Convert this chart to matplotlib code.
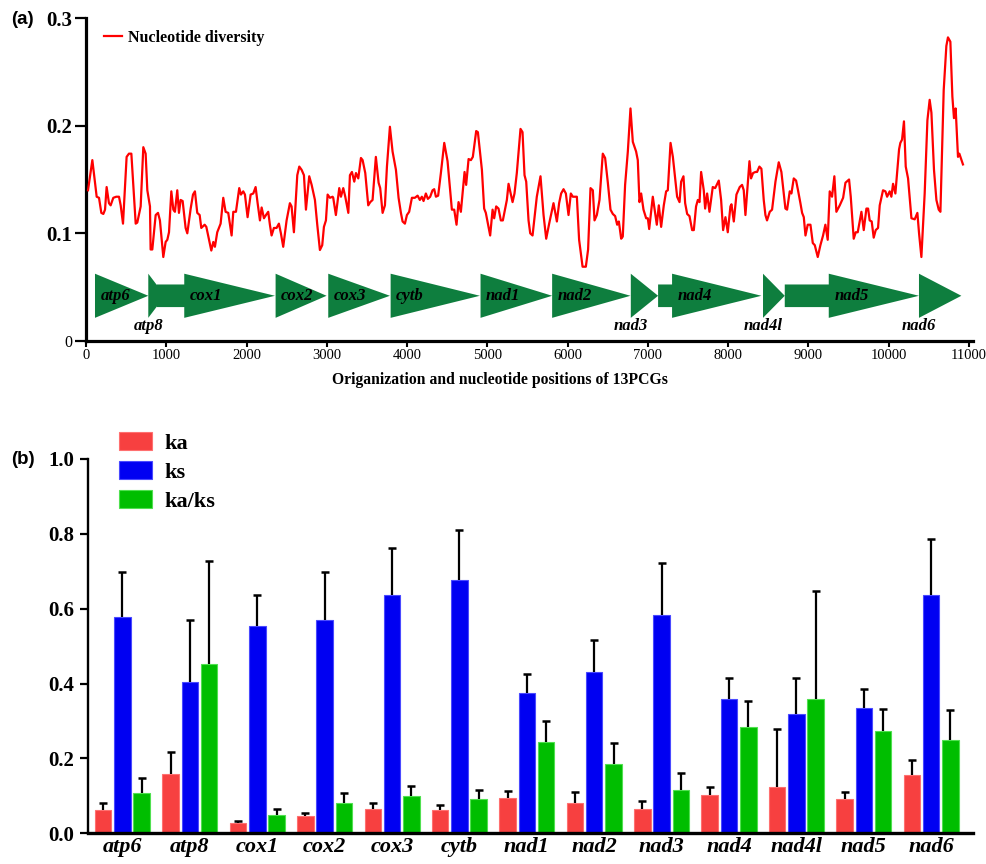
import numpy as np
import matplotlib
matplotlib.use("Agg")
import matplotlib.pyplot as plt
from matplotlib.patches import Polygon

# ---------------- data: nucleotide diversity (sliding window) ----------------
nd_pos = [25, 79, 133, 162, 191, 216, 237, 257, 286, 307, 340, 377, 411, 432, 461, 506, 535, 565, 619, 639,
          681, 714, 743, 764, 797, 805, 826, 868, 897, 921, 963, 992, 1013, 1034, 1063, 1088, 1108, 1137, 1158,
          1179, 1204, 1241, 1262, 1304, 1333, 1357, 1386, 1416, 1436, 1478, 1499, 1561, 1586,
          1606, 1635, 1677, 1710, 1739, 1772, 1814, 1835, 1868, 1909, 1930, 1959, 1980, 2013, 2051, 2084, 2113,
          2138, 2167, 2188, 2217, 2242, 2270, 2291, 2312, 2341, 2374, 2403, 2428, 2457, 2499, 2540, 2561, 2590,
          2632, 2657, 2686, 2715, 2740, 2781, 2811, 2852, 2881, 2914, 2943, 2964, 2989, 3010, 3039, 3072, 3080, 3113,
          3155, 3176, 3205, 3230, 3268, 3288, 3313, 3342, 3363, 3392, 3425, 3446, 3479, 3516, 3541, 3570, 3611,
          3645, 3665, 3695, 3724, 3749, 3786, 3819, 3861, 3894, 3923, 3944, 3973, 3998, 4026, 4060, 4097, 4131,
          4159, 4184, 4205, 4234, 4259, 4288, 4317, 4338, 4359, 4387, 4421, 4463, 4504, 4558, 4587, 4616, 4641, 4670,
          4716, 4736, 4766, 4795, 4819, 4861, 4882, 4932, 4960, 4981, 5035, 5065, 5085, 5110, 5139, 5168, 5193,
          5222, 5243, 5264, 5314, 5338, 5367, 5413, 5438, 5463, 5484, 5513, 5534, 5563, 5616, 5662, 5700, 5733,
          5770, 5824, 5866, 5894, 5919, 5949, 5978, 6011, 6040, 6065, 6115, 6143, 6186, 6227,
          6255, 6285, 6314, 6335, 6364, 6397, 6438, 6467, 6501, 6534, 6563, 6592, 6617, 6638, 6667, 6687, 6716,
          6750, 6783, 6812, 6853, 6874, 6895, 6916, 6945, 6978, 6999, 7016, 7061, 7082, 7111, 7136, 7165, 7198,
          7227, 7248, 7282, 7311, 7339, 7364, 7394, 7414, 7443, 7464, 7489, 7518, 7551, 7572, 7600, 7622, 7643,
          7663, 7696, 7713, 7738, 7767, 7808, 7838,
          7883, 7912, 7937, 7966, 7995, 8028, 8041, 8070, 8103, 8144, 8173, 8194, 8215, 8265, 8285, 8310, 8340,
          8360, 8389, 8414, 8443, 8464, 8484, 8518, 8547, 8589, 8630, 8663, 8684, 8713, 8734, 8767, 8788, 8817,
          8846, 8870, 8900, 8921, 8942, 8963, 8991, 9025, 9054, 9079, 9116, 9149, 9182, 9211, 9240, 9265, 9294,
          9323, 9348, 9390,
          9432, 9461, 9506, 9527, 9564, 9589, 9614, 9660, 9689, 9722, 9743, 9763, 9788, 9813, 9838, 9867, 9888,
          9929, 9959, 9980, 10012, 10033, 10054, 10083, 10129, 10145, 10166, 10190, 10212, 10241, 10283, 10324,
          10357, 10378, 10407, 10448, 10482, 10510, 10532, 10564, 10594, 10623, 10644, 10685, 10718, 10738, 10768,
          10793, 10813, 10834, 10863, 10880, 10925]
nd_val = [0.140, 0.168, 0.134, 0.133, 0.119, 0.118, 0.122, 0.143, 0.128, 0.126, 0.133, 0.134, 0.134, 0.126, 0.109,
          0.171, 0.174, 0.174, 0.109, 0.110, 0.125, 0.180, 0.174, 0.140, 0.125, 0.085, 0.085, 0.117, 0.119, 0.112,
          0.078, 0.092, 0.094, 0.101, 0.139, 0.122, 0.120, 0.140, 0.119, 0.131, 0.130, 0.105, 0.100, 0.123, 0.136,
          0.139, 0.119, 0.117, 0.105, 0.108, 0.106, 0.084, 0.092,
          0.0875, 0.101, 0.109, 0.133, 0.120, 0.119, 0.098, 0.120, 0.120, 0.142, 0.136, 0.139, 0.136, 0.115, 0.136,
          0.137, 0.143, 0.128, 0.112, 0.124, 0.114, 0.117, 0.120, 0.108, 0.098, 0.105, 0.105, 0.109, 0.100, 0.0875,
          0.112, 0.128, 0.125, 0.101, 0.154, 0.162, 0.159, 0.154, 0.122, 0.153, 0.145, 0.131, 0.108, 0.0845, 0.089,
          0.106, 0.112, 0.136, 0.133, 0.134, 0.133, 0.117,
          0.142, 0.134, 0.142, 0.134, 0.119, 0.154, 0.157, 0.148, 0.156, 0.151, 0.170, 0.168, 0.156, 0.126, 0.129,
          0.131, 0.171, 0.147, 0.142, 0.119, 0.126, 0.162, 0.199, 0.176, 0.159, 0.133, 0.119, 0.111, 0.109, 0.117,
          0.120, 0.133, 0.133, 0.135, 0.131, 0.134, 0.130, 0.137, 0.132, 0.134, 0.140, 0.141, 0.134, 0.135, 0.156,
          0.184, 0.167, 0.122, 0.122, 0.108, 0.129, 0.120,
          0.157, 0.145, 0.169, 0.168, 0.171, 0.195, 0.194, 0.159, 0.123, 0.119, 0.098, 0.122, 0.114, 0.125, 0.123,
          0.112, 0.112, 0.123, 0.131, 0.146, 0.129, 0.137, 0.156, 0.197, 0.194, 0.154, 0.148, 0.112, 0.100, 0.098,
          0.134, 0.153, 0.117, 0.095, 0.109, 0.128, 0.111, 0.128, 0.137, 0.141, 0.137, 0.117, 0.137, 0.134, 0.134,
          0.094, 0.069, 0.069,
          0.085, 0.142, 0.140, 0.112, 0.117, 0.131, 0.174, 0.170, 0.147, 0.122, 0.118, 0.116, 0.108, 0.111, 0.095,
          0.097, 0.145, 0.176, 0.216, 0.185, 0.176, 0.168, 0.129, 0.137, 0.122, 0.114, 0.114, 0.104, 0.134, 0.123,
          0.108, 0.126, 0.106, 0.126, 0.139, 0.140, 0.184, 0.171, 0.151, 0.134, 0.129, 0.148, 0.153, 0.128, 0.118,
          0.116, 0.103, 0.103, 0.125, 0.131, 0.129, 0.157, 0.140, 0.123, 0.137, 0.120, 0.143, 0.142,
          0.149, 0.131, 0.103, 0.115, 0.101, 0.125, 0.127, 0.111, 0.136, 0.143, 0.145, 0.140, 0.117, 0.167, 0.151,
          0.156, 0.157, 0.157, 0.162, 0.160, 0.131, 0.117, 0.112, 0.120, 0.122, 0.148, 0.166, 0.157, 0.143, 0.123,
          0.122, 0.139, 0.137, 0.151, 0.149, 0.140, 0.128, 0.119, 0.115, 0.098, 0.108, 0.108, 0.091, 0.089, 0.078,
          0.089, 0.098, 0.108, 0.094, 0.139, 0.134, 0.153, 0.120, 0.126,
          0.133, 0.147, 0.150, 0.134, 0.095, 0.101, 0.101, 0.120, 0.103, 0.123, 0.123, 0.112, 0.111, 0.096, 0.103,
          0.105, 0.126, 0.140, 0.139, 0.134, 0.139, 0.134, 0.146, 0.137, 0.178, 0.184, 0.187, 0.204, 0.162, 0.151,
          0.114, 0.113, 0.119, 0.100, 0.078, 0.137, 0.205, 0.224, 0.212, 0.159, 0.131, 0.122, 0.120, 0.233, 0.274,
          0.282, 0.278, 0.227, 0.207, 0.216, 0.171, 0.174, 0.164]

# ---------------- data: gene organisation ----------------
genes = ['atp6', 'atp8', 'cox1', 'cox2', 'cox3', 'cytb', 'nad1', 'nad2', 'nad3', 'nad4', 'nad4l', 'nad5', 'nad6']
gene_start = [112, 776, 880, 2362, 3018, 3795, 4915, 5807, 6787, 7127, 8434, 8705, 10377]
gene_end = [776, 984, 2354, 2997, 3786, 4907, 5807, 6783, 7127, 8414, 8705, 10377, 10905]
gene_body = [0, 0, 344, 0, 0, 0, 0, 0, 0, 174, 0, 548, 0]
label_below = ['atp8', 'nad3', 'nad4l', 'nad6']

# ---------------- data: ka / ks ----------------
ka = [0.062, 0.159, 0.028, 0.045, 0.064, 0.062, 0.094, 0.082, 0.066, 0.102, 0.125, 0.092, 0.156]
ka_err = [0.020, 0.058, 0.006, 0.010, 0.016, 0.013, 0.018, 0.028, 0.021, 0.023, 0.153, 0.018, 0.040]
ks = [0.579, 0.405, 0.555, 0.571, 0.637, 0.678, 0.375, 0.432, 0.583, 0.360, 0.319, 0.336, 0.637]
ks_err = [0.118, 0.165, 0.082, 0.128, 0.124, 0.131, 0.051, 0.084, 0.139, 0.056, 0.095, 0.049, 0.150]
kaks = [0.107, 0.452, 0.050, 0.080, 0.100, 0.092, 0.245, 0.186, 0.117, 0.285, 0.360, 0.273, 0.250]
kaks_err = [0.040, 0.275, 0.014, 0.027, 0.027, 0.023, 0.054, 0.054, 0.045, 0.068, 0.288, 0.059, 0.080]

SERIF = ['Liberation Serif', 'DejaVu Serif']
SANS = ['Liberation Sans', 'DejaVu Sans']
W, H = 987, 864
fig = plt.figure(figsize=(W / 100, H / 100), dpi=100)

def fx(px):
    return px / W

def fy(py):
    return 1 - py / H

# ================= panel (a) =================
ax1 = fig.add_axes([fx(86), fy(341), fx(973) - fx(86), fy(18) - fy(341)])
ax1.plot(nd_pos, nd_val, color='#FF0000', lw=1.6, label='Nucleotide diversity', zorder=3)

yc, hh, bh = 0.042, 0.0205, 0.0105
gcol = '#0E7E3E'
for g, s, e, b in zip(genes, gene_start, gene_end, gene_body):
    hs = s + b
    pts = [(s, yc - bh), (hs, yc - bh), (hs, yc - hh), (e, yc), (hs, yc + hh), (hs, yc + bh), (s, yc + bh)]
    ax1.add_patch(Polygon(pts, closed=True, facecolor=gcol, edgecolor='none', zorder=2))
    if g in label_below:
        ax1.text(s, 0.0135, g, ha='center', va='center', fontfamily=SERIF, fontweight='bold',
                 fontstyle='italic', fontsize=12, zorder=4)
    else:
        ax1.text(hs + 70, yc, g, ha='left', va='center', fontfamily=SERIF, fontweight='bold',
                 fontstyle='italic', fontsize=12, zorder=4)

ax1.set_xlim(0, 11050)
ax1.set_ylim(0, 0.3)
ax1.set_xticks(np.arange(0, 11001, 1000))
ax1.set_xticklabels([str(v) for v in range(0, 11001, 1000)], fontfamily=SERIF, fontsize=10.5)
ax1.set_yticks([0, 0.1, 0.2, 0.3])
ax1.set_yticklabels(['0', '0.1', '0.2', '0.3'], fontfamily=SERIF)
for i, t in enumerate(ax1.get_yticklabels()):
    if i == 0:
        t.set_fontsize(11.5)
    else:
        t.set_fontsize(15)
        t.set_fontweight('bold')
ax1.tick_params(axis='y', direction='out', length=8, width=1.6, pad=2)
ax1.tick_params(axis='x', direction='out', length=4.5, width=1.5, pad=1)
for sp in ['top', 'right']:
    ax1.spines[sp].set_visible(False)
for sp in ['left', 'bottom']:
    ax1.spines[sp].set_linewidth(2.3)

ax1.legend(loc='upper left', bbox_to_anchor=(fx(104), fy(30)), bbox_transform=fig.transFigure,
           frameon=False, handlelength=1.15, handletextpad=0.35, borderpad=0, borderaxespad=0,
           prop={'family': SERIF, 'weight': 'bold', 'size': 11.5})

fig.text(fx(500), fy(380), 'Origanization and nucleotide positions of 13PCGs', ha='center', va='center',
         fontfamily=SERIF, fontweight='bold', fontsize=11.3)
fig.text(fx(11), fy(20), '(a)', ha='left', va='center', fontfamily=SANS, fontweight='bold', fontsize=13.5)

# ================= panel (b) =================
ax2 = fig.add_axes([fx(88.3), fy(833.3), fx(973) - fx(88.3), fy(459) - fy(833.3)])
x = np.arange(len(genes))
bw, off = 0.245, 0.286
zeros = np.zeros(len(genes))
series = [(ka, ka_err, '#F74040', '#FF7070', 'ka', -off),
          (ks, ks_err, '#0000F2', '#4A4AFF', 'ks', 0.0),
          (kaks, kaks_err, '#00BE00', '#50E050', 'ka/ks', off)]
for vals, errs, fc, ec, lab, dx in series:
    ax2.bar(x + dx, vals, bw, color=fc, edgecolor=ec, linewidth=0.8, label=lab, zorder=2)
    eb = ax2.errorbar(x + dx, vals, yerr=[zeros, errs], fmt='none', ecolor='black', elinewidth=1.6,
                      capsize=2.8, capthick=1.8, zorder=3)
    eb.lines[1][0].set_visible(False)

ax2.set_xlim(-0.507, 12.62)
ax2.set_ylim(0, 1.0)
ax2.set_xticks(x)
ax2.set_xticklabels(genes, fontfamily=SERIF, fontweight='bold', fontstyle='italic', fontsize=16)
ax2.set_yticks(np.arange(0, 1.01, 0.2))
ax2.set_yticklabels(['%.1f' % v for v in np.arange(0, 1.01, 0.2)], fontfamily=SERIF, fontweight='bold',
                    fontsize=15)
ax2.tick_params(axis='x', length=0, pad=3)
ax2.tick_params(axis='y', direction='out', length=6, width=1.6, pad=4)
for sp in ['top', 'right']:
    ax2.spines[sp].set_visible(False)
ax2.spines['left'].set_linewidth(1.7)
ax2.spines['bottom'].set_linewidth(2.4)

ax2.legend(loc='upper left', bbox_to_anchor=(fx(119), fy(432)), bbox_transform=fig.transFigure,
           frameon=False, handlelength=1.5, handleheight=0.85, handletextpad=0.55, labelspacing=0.34,
           borderpad=0, borderaxespad=0, prop={'family': SERIF, 'weight': 'bold', 'size': 16})
fig.text(fx(11), fy(460), '(b)', ha='left', va='center', fontfamily=SANS, fontweight='bold', fontsize=13.5)

fig.savefig('out.png', dpi=100)
